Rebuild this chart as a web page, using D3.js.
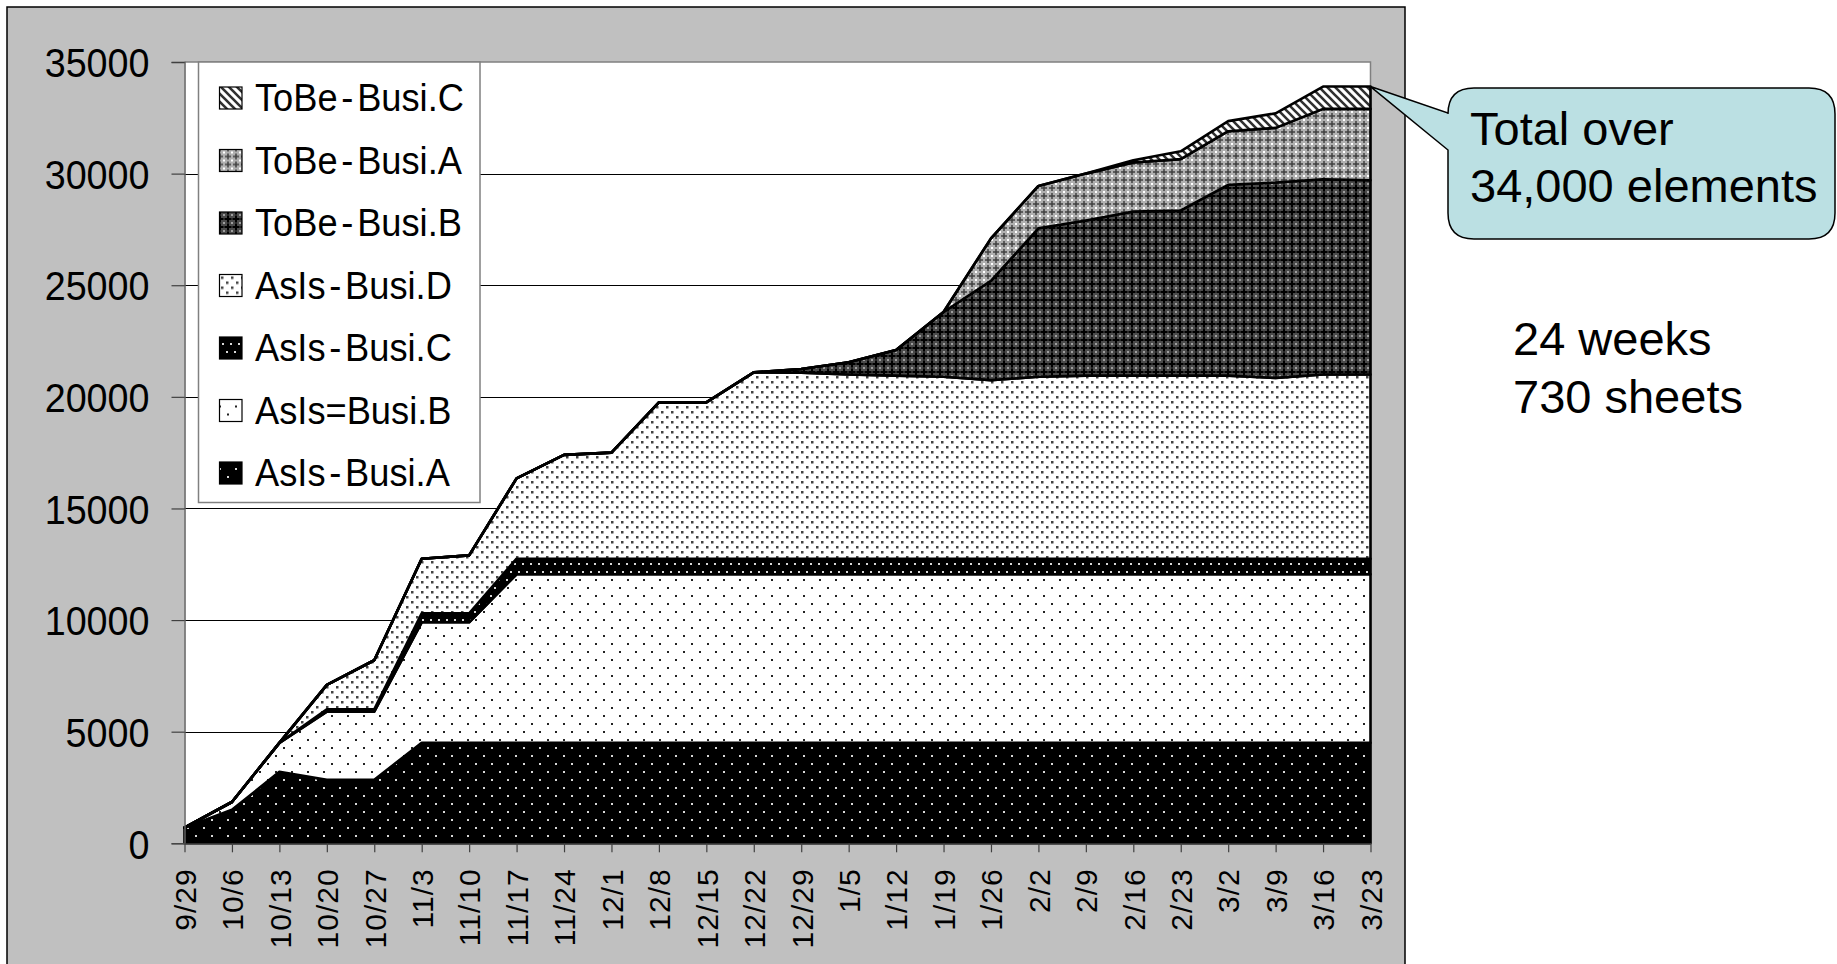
<!DOCTYPE html>
<html>
<head>
<meta charset="utf-8">
<script src="https://cdn.jsdelivr.net/npm/d3@7"></script>
<style>
  html, body { margin: 0; padding: 0; background: #ffffff; }
  svg { display: block; }
  text { font-family: "Liberation Sans", Arial, sans-serif; fill: #000; }
</style>
</head>
<body>
<svg id="chart" width="1837" height="964"></svg>
<script>
// ---------------- data ----------------
const dates = ["9/29","10/6","10/13","10/20","10/27","11/3","11/10","11/17","11/24","12/1","12/8","12/15","12/22","12/29","1/5","1/12","1/19","1/26","2/2","2/9","2/16","2/23","3/2","3/9","3/16","3/23"];

const asIsA = [700,1500,3200,2850,2850,4500,4500,4500,4500,4500,4500,4500,4500,4500,4500,4500,4500,4500,4500,4500,4500,4500,4500,4500,4500,4500];
const asIsB = [0,350,1300,3050,3050,5400,5400,7550,7550,7550,7550,7550,7550,7550,7550,7550,7550,7550,7550,7550,7550,7550,7550,7550,7550,7550];
const asIsC = [0,0,0,100,100,400,400,700,700,700,700,700,700,700,700,700,700,700,700,700,700,700,700,700,700,700];
const asIsD = [0,0,0,1100,2200,2450,2600,3600,4650,4750,7000,7000,8350,8330,8250,8200,8150,8000,8150,8200,8200,8200,8200,8100,8250,8250];
const toBeB = [0,0,0,0,0,0,0,0,0,0,0,0,0,170,550,1150,2900,4450,6650,6950,7350,7400,8550,8750,8750,8700];
const toBeA = [0,0,0,0,0,0,0,0,0,0,0,0,0,0,0,0,0,1900,1900,2100,2200,2300,2400,2450,3150,3200];
const toBeC = [0,0,0,0,0,0,0,0,0,0,0,0,0,0,0,0,0,0,0,0,100,350,450,650,1000,1000];

// bottom-to-top stacking order
const seriesNames = ["AsIs-Busi.A","AsIs=Busi.B","AsIs-Busi.C","AsIs-Busi.D","ToBe-Busi.B","ToBe-Busi.A","ToBe-Busi.C"];
const seriesValues = [asIsA, asIsB, asIsC, asIsD, toBeB, toBeA, toBeC];
const seriesPatterns = ["pA","pB","pC","pD","pTB","pTA","pTC"];

const yTicks = [0,5000,10000,15000,20000,25000,30000,35000];
const calloutLines = ["Total over","34,000 elements"];
const noteLines = ["24 weeks","730 sheets"];

// ---------------- setup ----------------
const svg = d3.select("#chart");
const defs = svg.append("defs");
const FONT = '"Liberation Sans", Arial, sans-serif';

function pat(id, w, h, bg, draw) {
  const p = defs.append("pattern").attr("id", id).attr("patternUnits","userSpaceOnUse")
    .attr("width", w).attr("height", h);
  p.append("rect").attr("width", w).attr("height", h).attr("fill", bg);
  draw(p);
}
function dot(p, x, y, s, c) { p.append("rect").attr("x", x).attr("y", y).attr("width", s).attr("height", s).attr("fill", c); }

pat("pA", 16, 16, "#000", p => { dot(p,3,3,2,"#d8d8d8"); dot(p,11,11,2,"#d8d8d8"); });
pat("pB", 16, 16, "#fff", p => { dot(p,3,3,2,"#222"); dot(p,11,11,2,"#222"); });
pat("pC", 8, 16, "#000", p => { dot(p,2,3,2,"#d8d8d8"); dot(p,6,11,2,"#d8d8d8"); });
pat("pD", 10, 10, "#fff", p => { dot(p,1,1,2.5,"#444"); dot(p,6,6,2.5,"#444"); });
pat("pTB", 8, 8, "#4a4a4a", p => {
  p.append("rect").attr("x",3).attr("y",0.5).attr("width",2).attr("height",7).attr("fill","#000");
  p.append("rect").attr("x",0.5).attr("y",3).attr("width",7).attr("height",2).attr("fill","#000");
  dot(p,-0.75,-0.75,1.5,"#e0e0e0"); dot(p,7.25,-0.75,1.5,"#e0e0e0");
  dot(p,-0.75,7.25,1.5,"#e0e0e0"); dot(p,7.25,7.25,1.5,"#e0e0e0");
});
pat("pTA", 8, 8, "#b0b0b0", p => {
  p.append("rect").attr("x",3.25).attr("y",1).attr("width",1.5).attr("height",6).attr("fill","#404040");
  p.append("rect").attr("x",1).attr("y",3.25).attr("width",6).attr("height",1.5).attr("fill","#404040");
  dot(p,-1,-1,2,"#fff"); dot(p,7,-1,2,"#fff"); dot(p,-1,7,2,"#fff"); dot(p,7,7,2,"#fff");
});
pat("pTC", 8, 8, "#fff", p => {
  p.append("path").attr("d","M-2,-2 L10,10 M-2,6 L2,10 M6,-2 L10,2")
    .attr("stroke","#303030").attr("stroke-width",2.6).attr("fill","none");
});

// ---------------- outer panel ----------------
svg.append("rect").attr("x",7).attr("y",7).attr("width",1398).attr("height",975)
  .attr("fill","#c0c0c0").attr("stroke","#000").attr("stroke-width",1.5);

// ---------------- scales ----------------
const x = d3.scalePoint().domain(dates).range([184.5, 1370.5]);
const y = d3.scaleLinear().domain([0, 35000]).range([843.3, 62]);

// plot area
svg.append("rect").attr("x", x.range()[0]).attr("y", y(35000))
  .attr("width", x.range()[1]-x.range()[0]).attr("height", y(0)-y(35000))
  .attr("fill","#fff");

// gridlines
svg.append("g").selectAll("line").data(yTicks.filter(d => d > 0 && d < 35000)).join("line")
  .attr("x1", x.range()[0]).attr("x2", x.range()[1])
  .attr("y1", d => Math.round(y(d))+0.5).attr("y2", d => Math.round(y(d))+0.5)
  .attr("stroke","#000").attr("stroke-width",1);

// plot area top/right border
svg.append("path")
  .attr("d", `M${x.range()[0]},${y(35000)} H${x.range()[1]} V${y(0)}`)
  .attr("fill","none").attr("stroke","#808080").attr("stroke-width",1.5);

// ---------------- stacked areas ----------------
const table = dates.map((d, i) => {
  const row = { date: d };
  seriesNames.forEach((n, k) => row[n] = seriesValues[k][i]);
  return row;
});
const stacked = d3.stack().keys(seriesNames)(table);
const area = d3.area().x(d => x(d.data.date)).y0(d => y(d[0])).y1(d => y(d[1]));

svg.append("g").selectAll("path").data(stacked).join("path")
  .attr("d", area)
  .attr("fill", (d, i) => `url(#${seriesPatterns[i]})`)
  .attr("stroke","#000").attr("stroke-width",2.6).attr("stroke-linejoin","round");

// ---------------- axes ----------------
const yAxis = d3.axisLeft(y).tickValues(yTicks).tickSize(13).tickPadding(0).tickFormat(d3.format("d"));
const gy = svg.append("g").attr("transform", `translate(${x.range()[0]},0)`).call(yAxis);
gy.select(".domain").attr("stroke","#606060").attr("stroke-width",1.5);
gy.selectAll(".tick line").attr("stroke","#404040").attr("stroke-width",1.2);
gy.selectAll(".tick text").style("font-family", FONT)
  .style("font-size","41px").attr("fill","#000")
  .attr("x", -35 / 0.92).attr("dy","0.36em")
  .attr("transform","scale(0.92,1)");

const xAxis = d3.axisBottom(x).tickSize(9).tickSizeOuter(0);
const gx = svg.append("g").attr("transform", `translate(0,${y(0)})`).call(xAxis);
gx.select(".domain").attr("stroke","#404040").attr("stroke-width",1.2);
gx.selectAll(".tick line").attr("stroke","#404040").attr("stroke-width",1.2);
gx.selectAll(".tick text")
  .style("font-family", FONT).style("font-size","30px").style("letter-spacing","1px")
  .attr("fill","#000")
  .attr("transform","rotate(-90)")
  .attr("text-anchor","end")
  .attr("x", -25).attr("y", 0).attr("dy","0.36em");

// ---------------- legend ----------------
const lg = svg.append("g");
lg.append("rect").attr("x",198.5).attr("y",62).attr("width",281.5).attr("height",440.5)
  .attr("fill","#fff").attr("stroke","#808080").attr("stroke-width",1.5);
const legendOrder = seriesNames.map((n, i) => ({ name: n, pat: seriesPatterns[i] })).reverse();
const items = lg.selectAll("g.item").data(legendOrder).join("g").attr("class","item")
  .attr("transform", (d, i) => `translate(0,${98 + i*62.5})`);
items.append("rect").attr("x",219.5).attr("y",-11).attr("width",22.5).attr("height",22)
  .attr("fill", d => `url(#${d.pat})`).attr("stroke","#000").attr("stroke-width",1.2);
items.each(function(d) {
  const m = d.name.match(/^(\w+)([-=])(.*)$/);
  const t = d3.select(this).append("g").attr("transform","translate(255,13) scale(0.93,1)")
    .append("text").attr("x",0).attr("y",0).style("font-size","39px");
  t.append("tspan").text(m[1]);
  t.append("tspan").attr("dx", m[2] === "-" ? 4 : 0).text(m[2]);
  t.append("tspan").attr("dx", m[2] === "-" ? 4 : 0).text(m[3]);
});

// ---------------- callout ----------------
const L = 1448, R = 1835, T = 88, B = 239, r = 26;
const tipX = x(dates[dates.length-1]), tipY = y(seriesValues.reduce((s, a) => s + a[a.length-1], 0));
svg.append("path")
  .attr("d", `M${L+r},${T} H${R-r} Q${R},${T} ${R},${T+r} V${B-r} Q${R},${B} ${R-r},${B} H${L+r} Q${L},${B} ${L},${B-r} V150 L${tipX},${tipY} L${L},113 V${T+r} Q${L},${T} ${L+r},${T} Z`)
  .attr("fill","#bbe0e3").attr("stroke","#000").attr("stroke-width",1.5);
svg.append("g").selectAll("text").data(calloutLines).join("text")
  .attr("x",1470).attr("y",(d, i) => 145 + i*57).style("font-size","47px").text(d => d);

svg.append("g").selectAll("text").data(noteLines).join("text")
  .attr("x",1513).attr("y",(d, i) => 355 + i*57.5).style("font-size","47px").text(d => d);
</script>
</body>
</html>
